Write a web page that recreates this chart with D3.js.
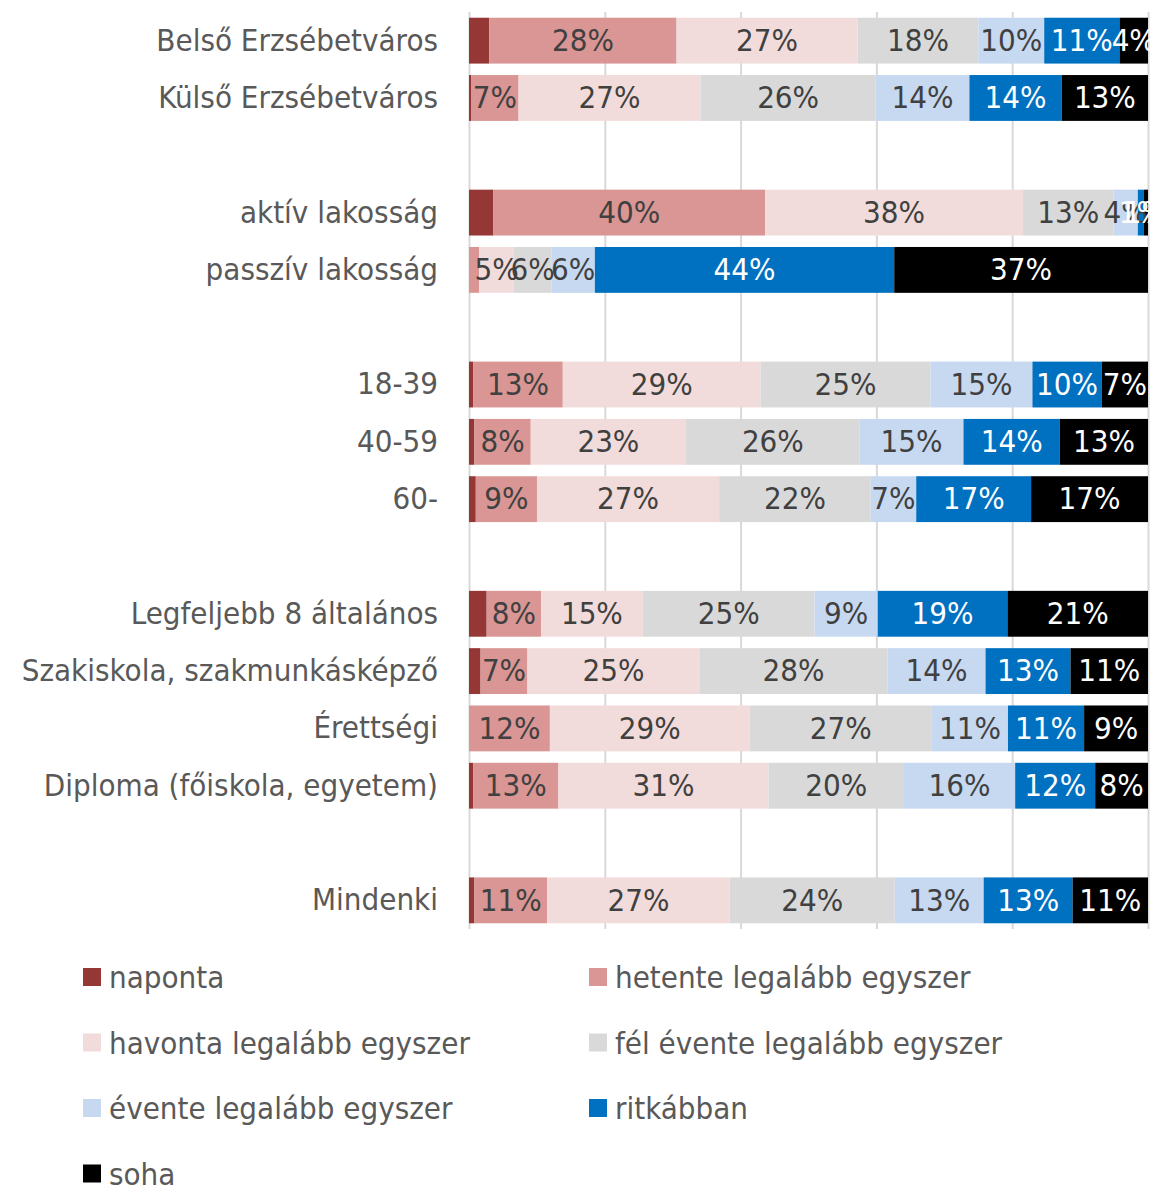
<!DOCTYPE html>
<html>
<head>
<meta charset="utf-8">
<script src="https://cdn.jsdelivr.net/npm/d3@7"></script>
<style>
  body { margin: 0; background: #fff; }
  svg text { font-family: "Liberation Sans Narrow", "DejaVu Sans Condensed", sans-serif; }
</style>
</head>
<body>
<svg id="chart" width="1153" height="1186"></svg>
<script>
// rows top to bottom, "" = empty gap row
const rows = ["Belső Erzsébetváros", "Külső Erzsébetváros", "",
  "aktív lakosság", "passzív lakosság", "",
  "18-39", "40-59", "60-", "",
  "Legfeljebb 8 általános", "Szakiskola, szakmunkásképző", "Érettségi", "Diploma (főiskola, egyetem)", "",
  "Mindenki"];

const series = ["naponta", "hetente legalább egyszer", "havonta legalább egyszer",
  "fél évente legalább egyszer", "évente legalább egyszer", "ritkábban", "soha"];

const colors = ["#953735", "#d99694", "#f2dcdb", "#d9d9d9", "#c6d9f1", "#0070c0", "#000000"];

// values per category, in series order (percent)
const naponta    = [3.0, 0.3, 3.6, 0,    0.6, 0.8, 1.0, 2.6, 1.7, 0,    0.6, 0.8];
const hetente    = [27.6, 7.0, 40.0, 1.5, 13.2, 8.3, 9.0, 8.0, 6.9, 11.9, 12.6, 10.7];
const havonta    = [26.7, 26.8, 38.0, 5.1, 29.1, 22.9, 26.8, 15.0, 25.3, 29.4, 31.0, 26.9];
const felEvente  = [17.8, 25.8, 13.3, 5.5, 25.0, 25.6, 22.3, 25.3, 27.7, 26.8, 20.0, 24.3];
const evente     = [9.7, 13.8, 3.6, 6.4, 15.0, 15.3, 6.7, 9.3, 14.4, 11.2, 16.4, 13.1];
const ritkabban  = [11.1, 13.6, 0.9, 44.0, 10.2, 14.2, 16.9, 19.1, 12.5, 11.2, 11.8, 13.1];
const soha       = [4.2, 12.7, 0.6, 37.3, 6.8, 13.0, 17.2, 20.7, 11.4, 9.4, 7.8, 11.1];

const xTicks = [0, 20, 40, 60, 80, 100];

// labels that the original leaves out
const hiddenLabels = [["passzív lakosság", "hetente legalább egyszer"]];

const cats = rows.filter(d => d !== "");
const cols = [naponta, hetente, havonta, felEvente, evente, ritkabban, soha];
const table = cats.map((c, i) => {
  const o = { cat: c };
  series.forEach((s, j) => o[s] = cols[j][i]);
  return o;
});

const svg = d3.select("#chart");
const plotLeft = 469, plotRight = 1148, plotTop = 12, plotBottom = 929;

const rowKeys = rows.map((r, i) => r === "" ? "gap" + i : r);
const y = d3.scaleBand().domain(rowKeys).range([plotTop, plotBottom]).paddingInner(0.2).paddingOuter(0.1);
const x = d3.scaleLinear().domain([0, 100]).range([plotLeft, plotRight]);

// gridlines
svg.append("g")
  .attr("transform", `translate(0,${plotBottom})`)
  .call(d3.axisBottom(x).tickValues(xTicks).tickSize(-(plotBottom - plotTop)).tickFormat(""))
  .call(g => g.select(".domain").remove())
  .call(g => g.selectAll(".tick line").attr("stroke", "#d9d9d9").attr("stroke-width", 2));

const stack = d3.stack().keys(series).offset(d3.stackOffsetExpand);
const stacked = stack(table);

const layers = svg.append("g").selectAll("g")
  .data(stacked)
  .join("g")
  .attr("fill", (d, i) => colors[i]);

layers.selectAll("rect")
  .data(d => d)
  .join("rect")
  .attr("x", d => x(d[0] * 100))
  .attr("width", d => x(d[1] * 100) - x(d[0] * 100))
  .attr("y", d => y(d.data.cat))
  .attr("height", y.bandwidth());

// data labels
stacked.forEach((layer, i) => {
  if (i === 0) return; // naponta not labelled
  svg.append("g").selectAll("text")
    .data(layer.filter(d => d.data[layer.key] > 0 &&
      !hiddenLabels.some(h => h[0] === d.data.cat && h[1] === layer.key)))
    .join("text")
    .attr("x", d => x((d[0] + d[1]) / 2 * 100))
    .attr("y", d => y(d.data.cat) + y.bandwidth() / 2)
    .attr("dy", "0.33em")
    .attr("text-anchor", "middle")
    .attr("font-size", 31)
    .attr("fill", i >= 5 ? "#ffffff" : "#404040")
    .text(d => Math.round(d.data[layer.key]) + "%");
});

// category axis
svg.append("g")
  .attr("transform", `translate(${plotLeft},0)`)
  .call(d3.axisLeft(y).tickSize(0).tickPadding(31).tickFormat(d => d.startsWith("gap") ? "" : d))
  .call(g => g.select(".domain").remove())
  .call(g => g.selectAll("text").attr("font-size", 31).attr("fill", "#595959"));

// legend
const legend = svg.append("g").selectAll("g")
  .data(series)
  .join("g")
  .attr("transform", (d, i) => `translate(${i % 2 === 0 ? 83 : 589},${977 + Math.floor(i / 2) * 65.5})`);

legend.append("rect")
  .attr("x", 0).attr("y", -9).attr("width", 18).attr("height", 18)
  .attr("fill", (d, i) => colors[i]);

legend.append("text")
  .attr("x", 26).attr("dy", "0.36em")
  .attr("font-size", 31).attr("fill", "#595959")
  .text(d => d);
</script>
</body>
</html>
